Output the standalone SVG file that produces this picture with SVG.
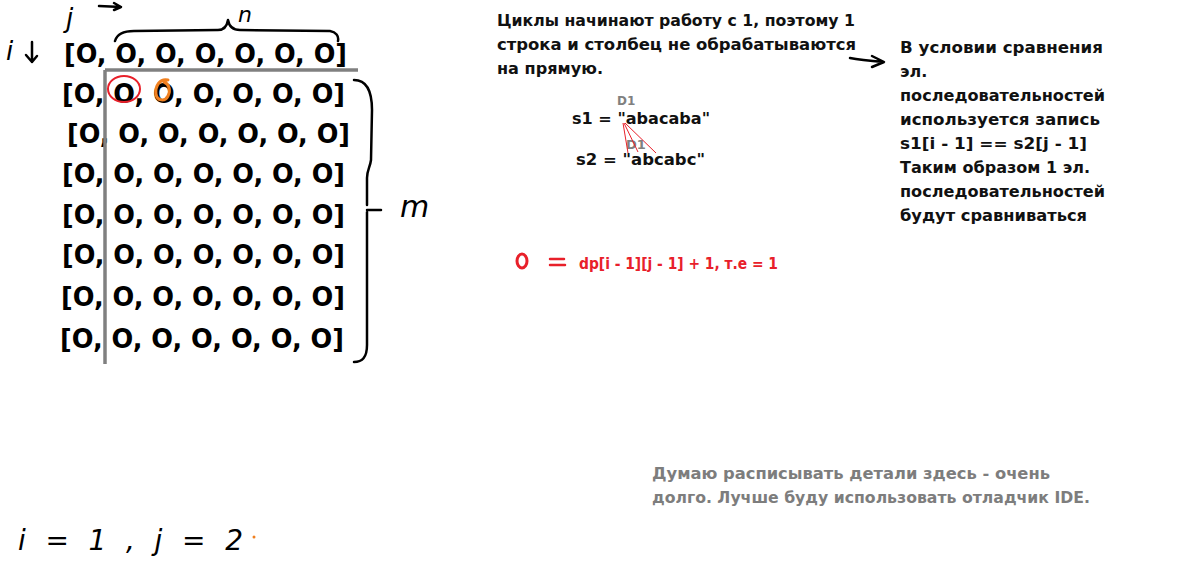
<svg xmlns="http://www.w3.org/2000/svg" width="1200" height="580" viewBox="0 0 1200 580">
<style>
.row{font-family:"DejaVu Sans",Verdana,sans-serif;font-weight:bold;font-size:26px;fill:#000}
.note{font-family:"DejaVu Sans","Noto Sans",sans-serif;font-weight:bold;font-size:16px;fill:#111}
.hand{font-family:"DejaVu Sans",sans-serif;font-style:italic;fill:#000}
.ink{fill:none;stroke:#000;stroke-width:2.5;stroke-linecap:round;stroke-linejoin:round}
.grayline{stroke:#808080;stroke-width:3.5;fill:none}
.red{fill:#e8202a}
.gray{font-family:"DejaVu Sans","Noto Sans",sans-serif;font-weight:bold;font-size:16px;fill:#7d7d7d}
</style>
<rect width="1200" height="580" fill="#fff"/>

<g id="matrix">
<text class="row" x="64" y="63" textLength="283" lengthAdjust="spacingAndGlyphs">[O, O, O, O, O, O, O]</text>
<text class="row" x="62" y="103" textLength="283" lengthAdjust="spacingAndGlyphs">[O, O, O, O, O, O, O]</text>
<text class="row" x="67" y="143" textLength="283" lengthAdjust="spacingAndGlyphs">[O, O, O, O, O, O, O]</text>
<text class="row" x="62" y="183" textLength="283" lengthAdjust="spacingAndGlyphs">[O, O, O, O, O, O, O]</text>
<text class="row" x="62" y="224" textLength="283" lengthAdjust="spacingAndGlyphs">[O, O, O, O, O, O, O]</text>
<text class="row" x="62" y="264" textLength="283" lengthAdjust="spacingAndGlyphs">[O, O, O, O, O, O, O]</text>
<text class="row" x="61" y="306" textLength="284" lengthAdjust="spacingAndGlyphs">[O, O, O, O, O, O, O]</text>
<text class="row" x="60" y="348" textLength="284" lengthAdjust="spacingAndGlyphs">[O, O, O, O, O, O, O]</text>
</g>

<g id="grid-lines">
<path class="grayline" d="M105 70 H358"/>
<path class="grayline" d="M105 70 V364"/>
</g>

<g id="marks">
<ellipse cx="124" cy="89" rx="16" ry="13" fill="none" stroke="#e8202a" stroke-width="2"/>
<path d="M168 80 C160 78 155 86 156 94 C157 101 165 102 168 96 C171 90 169 84 164 82" fill="none" stroke="#f08020" stroke-width="3" stroke-linecap="round"/>
</g>

<g id="brace-n">
<path class="ink" d="M115 41 C117 34 124 31 134 31 L218 30 C224 30 227 26 228 20 C229 26 232 30 240 30 L330 31 C336 32 339 36 338 41"/>
<text class="hand" x="238" y="22" font-size="22">n</text>
</g>

<g id="label-j">
<text class="hand" x="66" y="27" font-size="26">j</text>
<path class="ink" d="M99 6 L121 7 M114 3 L121 7 L114 10"/>
</g>

<g id="label-i">
<text class="hand" x="6" y="60" font-size="26">i</text>
<path class="ink" d="M32 42 L32 62 M26 55 L32 62 L37 56"/>
</g>

<g id="brace-m">
<path class="ink" d="M354 80 C366 80 372 90 372 110 L371 160 C370 168 367 170 367 178 L367 205 M367 210 L381 210 M367 212 L367 345 C367 358 362 362 354 362"/>
<text class="hand" x="400" y="217" font-size="30">m</text>
</g>

<g id="note-top">
<text class="note" x="497" y="26" textLength="358" lengthAdjust="spacingAndGlyphs">Циклы начинают работу с 1, поэтому 1</text>
<text class="note" x="497" y="50" textLength="359" lengthAdjust="spacingAndGlyphs">строка и столбец не обрабатываются</text>
<text class="note" x="497" y="74" textLength="106" lengthAdjust="spacingAndGlyphs">на прямую.</text>
</g>

<g id="strings">
<text class="note" x="572" y="124" textLength="138" lengthAdjust="spacingAndGlyphs">s1 = "abacaba"</text>
<text class="note" x="576" y="165" textLength="129" lengthAdjust="spacingAndGlyphs">s2 = "abcabc"</text>
<text x="617" y="105" font-family="DejaVu Sans,sans-serif" font-weight="bold" font-size="12" fill="#808080">D1</text>
<text x="626" y="149" font-family="DejaVu Sans,sans-serif" font-weight="bold" font-size="13" fill="#808080">D1</text>
<path d="M623 123 L628 153 M624 123 L638 152 M625 123 L656 153" stroke="#e8202a" stroke-width="1" fill="none"/>
</g>

<g id="arrow-right">
<path class="ink" d="M850 58 C860 60 872 61 884 62 M872 56 L884 62 L872 67"/>
</g>

<g id="note-right">
<text class="note" x="900" y="53" textLength="203" lengthAdjust="spacingAndGlyphs">В условии сравнения</text>
<text class="note" x="900" y="77">эл.</text>
<text class="note" x="900" y="101" textLength="205" lengthAdjust="spacingAndGlyphs">последовательностей</text>
<text class="note" x="900" y="125" textLength="200" lengthAdjust="spacingAndGlyphs">используется запись</text>
<text class="note" x="900" y="149" textLength="187" lengthAdjust="spacingAndGlyphs">s1[i - 1] == s2[j - 1]</text>
<text class="note" x="900" y="173" textLength="190" lengthAdjust="spacingAndGlyphs">Таким образом 1 эл.</text>
<text class="note" x="900" y="197" textLength="205" lengthAdjust="spacingAndGlyphs">последовательностей</text>
<text class="note" x="900" y="221" textLength="187" lengthAdjust="spacingAndGlyphs">будут сравниваться</text>
</g>

<g id="formula">
<ellipse cx="522" cy="261" rx="5" ry="7" fill="none" stroke="#e8202a" stroke-width="3"/>
<path d="M550 259 H564 M550 265 H565" stroke="#e8202a" stroke-width="2.5" stroke-linecap="round"/>
<text x="579" y="269" font-family="DejaVu Sans,sans-serif" font-weight="bold" font-size="15" class="red" textLength="199" lengthAdjust="spacingAndGlyphs">dp[i - 1][j - 1] + 1, т.е = 1</text>
</g>

<g id="note-bottom">
<text class="gray" x="652" y="479" textLength="398" lengthAdjust="spacingAndGlyphs">Думаю расписывать детали здесь - очень</text>
<text class="gray" x="652" y="503" textLength="438" lengthAdjust="spacingAndGlyphs">долго. Лучше буду использовать отладчик IDE.</text>
</g>

<g id="assign">
<text class="hand" x="18" y="550" font-size="28" textLength="225" lengthAdjust="spacing">i = 1 , j = 2</text>
<circle cx="254" cy="537" r="1.5" fill="#f08020"/>
</g>
</svg>
